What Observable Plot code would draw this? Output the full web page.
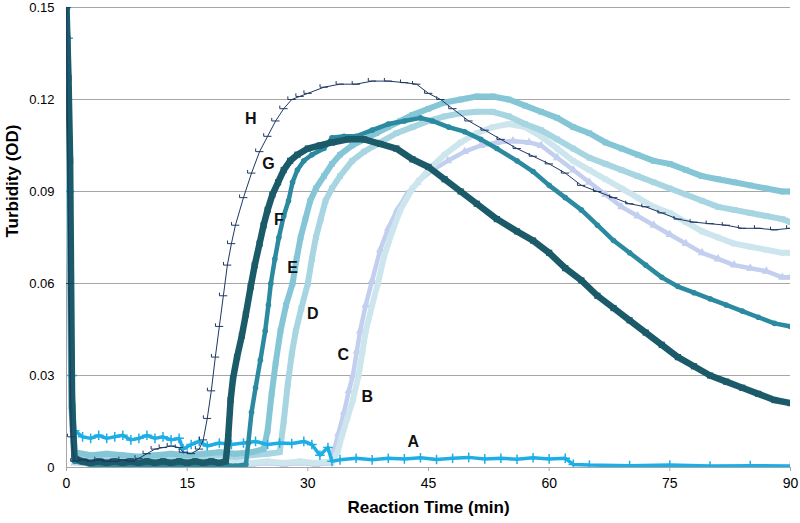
<!DOCTYPE html>
<html><head><meta charset="utf-8">
<script src="https://cdn.jsdelivr.net/npm/d3@7"></script>
<script src="https://cdn.jsdelivr.net/npm/@observablehq/plot@0.6"></script>
<style>
body{margin:0;background:#fff;font-family:"Liberation Sans",Arial,sans-serif;}
svg{display:block;}
</style></head><body><div id="chart"></div>
<script>
// ---- data: [time (min), turbidity (OD)] ----
const seriesA = [[0,0.150],[0.2,0.140],[0.4,0.090],[0.7,0.030],[1,0.012],[2,0.010],[3,0.0095],[4,0.0105],[5,0.0095],[6,0.010],[7,0.0105],[8,0.009],[9,0.0095],[10,0.0105],[11,0.0095],[12,0.010],[13,0.009],[14,0.0095],[14.5,0.006],[15.5,0.0075],[16.5,0.0085],[17.5,0.007],[19,0.008],[20.5,0.0075],[22,0.008],[23.5,0.0085],[25,0.0075],[26.5,0.008],[28,0.0078],[29.5,0.0085],[30.5,0.0075],[31.5,0.004],[32.5,0.0065],[33,0.002],[34,0.0025],[36,0.003],[38,0.0025],[40,0.003],[42,0.0028],[44,0.0032],[46,0.0026],[48,0.003],[50,0.0033],[52,0.0028],[54,0.003],[56,0.0027],[58,0.0032],[60,0.0028],[62,0.003],[63,0.001],[65,0.0008],[70,0.0006],[75,0.0008],[80,0.0005],[85,0.0006],[90,0.0005]];
const seriesB = [[0,0.150],[0.3,0.09],[0.6,0.02],[1,0.002],[3,0.0015],[5,0.002],[7,0.0015],[9,0.002],[11,0.0015],[13,0.002],[15,0.0015],[17,0.002],[19,0.0015],[21,0.002],[23,0.0015],[25,0.002],[27,0.0015],[29,0.002],[31,0.0015],[33,0.002],[33.7,0.005],[34.2,0.010],[34.9,0.016],[35.6,0.022],[36.3,0.030],[36.8,0.038],[37.2,0.0445],[38,0.053],[38.7,0.060],[39.5,0.069],[40.5,0.077],[41.5,0.084],[43,0.091],[45,0.097],[47,0.102],[49,0.106],[51,0.109],[53,0.111],[55,0.112],[57,0.111],[59,0.108],[61,0.104],[63,0.100],[65,0.097],[67,0.094],[69,0.091],[71,0.088],[73,0.085],[75,0.083],[77,0.080],[79,0.077],[81,0.075],[83,0.073],[85,0.072],[87,0.071],[89,0.070],[90,0.070]];
const seriesC = [[0,0.150],[0.3,0.09],[0.6,0.02],[1,0.0015],[3,0.001],[5,0.0015],[7,0.001],[9,0.0015],[11,0.001],[13,0.0015],[15,0.001],[17,0.0015],[19,0.001],[21,0.0015],[23,0.001],[25,0.0015],[27,0.001],[29,0.0015],[31,0.001],[32.8,0.0015],[33.3,0.006],[33.8,0.011],[34.5,0.018],[35.1,0.025],[35.6,0.030],[36.1,0.038],[36.5,0.0445],[37.2,0.053],[38,0.061],[39,0.071],[40,0.078],[41.1,0.084],[42.3,0.089],[43.6,0.093],[45.5,0.097],[47.4,0.100],[49.5,0.103],[51.5,0.105],[53.5,0.106],[55.5,0.1065],[57.5,0.106],[59,0.105],[61,0.101],[63,0.097],[65,0.093],[67,0.089],[69,0.085],[71,0.082],[73,0.079],[75,0.076],[77,0.073],[79,0.070],[81,0.068],[83,0.066],[85,0.065],[87,0.064],[89,0.062],[90,0.062]];
const seriesD = [[0,0.150],[0.3,0.10],[0.6,0.02],[1,0.004],[3,0.003],[5,0.0035],[7,0.003],[9,0.0035],[11,0.003],[13,0.0035],[15,0.003],[17,0.0035],[19,0.004],[21,0.0035],[23,0.004],[25,0.0045],[26.5,0.005],[27,0.015],[27.5,0.027],[28,0.037],[28.5,0.0445],[29.2,0.052],[30,0.060],[30.5,0.068],[31,0.075],[31.6,0.081],[32.2,0.087],[33,0.091],[34,0.095],[35.5,0.100],[37,0.103],[39,0.106],[41,0.109],[43,0.111],[45,0.113],[47,0.1145],[49,0.1155],[51,0.116],[53,0.116],[55,0.1145],[57,0.112],[59,0.110],[61,0.107],[63,0.104],[65,0.101],[67,0.099],[69,0.097],[71,0.095],[73,0.093],[75,0.091],[77,0.089],[79,0.087],[81,0.085],[83,0.084],[85,0.083],[87,0.082],[89,0.081],[90,0.080]];
const seriesE = [[0,0.150],[0.3,0.11],[0.6,0.03],[1,0.005],[3,0.004],[5,0.0045],[7,0.004],[9,0.0035],[11,0.004],[13,0.0045],[15,0.004],[17,0.0045],[19,0.005],[21,0.0045],[23,0.005],[24.5,0.006],[25,0.012],[25.5,0.024],[26,0.034],[26.6,0.0445],[27.3,0.053],[28.1,0.060],[28.6,0.068],[29.1,0.075],[29.7,0.081],[30.3,0.087],[31,0.091],[32,0.095],[33,0.099],[34,0.102],[35.5,0.105],[37,0.107],[38.5,0.109],[40,0.111],[41.5,0.113],[43,0.115],[45,0.117],[47,0.119],[49,0.120],[51,0.121],[53,0.121],[55,0.120],[57,0.118],[59,0.116],[61,0.114],[63,0.111],[65,0.109],[67,0.106],[69,0.104],[71,0.102],[73,0.100],[75,0.099],[77,0.097],[79,0.095],[81,0.094],[83,0.093],[85,0.092],[87,0.091],[89,0.090],[90,0.090]];
const seriesF = [[0,0.150],[0.2,0.140],[0.4,0.108],[0.7,0.030],[1,0.002],[3,0.001],[5,0.0005],[7,0.001],[9,0.0005],[11,0.001],[13,0.0005],[15,0.001],[17,0.0005],[19,0.001],[21,0.0005],[22.3,0.001],[22.6,0.008],[23,0.018],[23.5,0.026],[24.1,0.035],[24.7,0.0445],[25.1,0.053],[25.4,0.060],[25.9,0.068],[26.4,0.075],[27,0.082],[27.6,0.087],[28.1,0.093],[28.7,0.097],[29.5,0.100],[30.5,0.102],[32,0.104],[33,0.1075],[34.5,0.108],[36,0.108],[38,0.110],[40,0.112],[42,0.113],[44,0.114],[45.5,0.113],[47.5,0.111],[49.5,0.1095],[51.5,0.107],[53.5,0.104],[56,0.100],[58,0.0965],[60,0.092],[62,0.088],[64,0.084],[66,0.079],[68,0.074],[70,0.070],[72,0.066],[74,0.062],[76,0.059],[78,0.057],[80,0.055],[82,0.053],[84,0.051],[86,0.049],[88,0.047],[90,0.046]];
const seriesG = [[0,0.150],[0.25,0.127],[0.45,0.100],[0.7,0.020],[1,0.003],[2,0.002],[3,0.0015],[4,0.002],[5,0.0015],[6,0.002],[7,0.0015],[8,0.002],[9,0.0015],[10,0.002],[11,0.0015],[12,0.002],[13,0.0015],[14,0.002],[15,0.0015],[16,0.002],[17,0.0015],[18,0.002],[19,0.0015],[19.8,0.002],[20.1,0.010],[20.4,0.022],[20.7,0.029],[21.2,0.036],[21.8,0.043],[22.3,0.050],[22.9,0.059],[23.4,0.066],[24,0.073],[24.5,0.079],[25,0.084],[25.6,0.089],[26.3,0.093],[27,0.097],[27.8,0.100],[28.7,0.102],[30,0.104],[31.5,0.105],[33,0.106],[35,0.107],[37,0.107],[39,0.1055],[41,0.104],[43,0.1005],[45,0.098],[47,0.094],[49,0.090],[51,0.086],[53.5,0.081],[56,0.077],[58,0.074],[60,0.070],[62,0.065],[64,0.061],[66,0.056],[68,0.052],[70,0.048],[72,0.044],[74,0.040],[76,0.036],[78,0.033],[80,0.030],[82,0.028],[84,0.026],[86,0.024],[88,0.022],[90,0.021]];
const seriesH = [[0,0.150],[0.3,0.060],[0.6,0.010],[1,0.002],[2,0.0025],[3,0.002],[4,0.0025],[5,0.002],[6,0.002],[7,0.0025],[8,0.002],[9,0.003],[10,0.0045],[11,0.006],[12,0.0065],[13,0.007],[14,0.0065],[14.5,0.005],[15.5,0.0045],[16.5,0.006],[17,0.009],[17.5,0.016],[18,0.025],[18.5,0.036],[19,0.046],[19.5,0.056],[20,0.066],[20.5,0.073],[21,0.079],[22,0.088],[23,0.096],[24,0.103],[25,0.108],[26,0.113],[27,0.117],[28,0.120],[29,0.121],[30,0.122],[32,0.124],[34,0.125],[36,0.125],[38,0.126],[40,0.126],[42,0.1255],[43.5,0.125],[45,0.122],[46.5,0.120],[48,0.117],[50,0.113],[52,0.110],[54,0.107],[56,0.104],[58,0.1015],[60,0.099],[62,0.096],[64,0.092],[66,0.090],[68,0.088],[70,0.086],[72,0.085],[74,0.083],[76,0.081],[78,0.080],[80,0.0795],[82,0.079],[84,0.078],[86,0.078],[88,0.0775],[90,0.078]];

const labelNames = ["A","B","C","D","E","F","G","H"];
const labelT = [43.1,37.4,34.4,30.6,28.1,26.4,25.1,22.9];
const labelV = [0.0085,0.0231,0.0367,0.050,0.065,0.0809,0.0991,0.1137];

const xTicks = [0,15,30,45,60,75,90];
const yTicks = [0,0.03,0.06,0.09,0.12,0.15];
const xTitle = "Reaction Time (min)";
const yTitle = "Turbidity (OD)";

// ---- build ----
const rows = arr => arr.map(([t, v]) => ({t, v}));
const dash = {draw(ctx, size){ const w = Math.sqrt(size); ctx.moveTo(-w, 0); ctx.lineTo(w, 0); ctx.moveTo(-w,0); ctx.lineTo(-w,-w*0.8); }};

function series(arr, color, width, symbol, r, filled){
  const d = rows(arr);
  return [
    Plot.line(d, {x:"t", y:"v", stroke:color, strokeWidth:width, clip:true}),
    Plot.dot(d, filled
      ? {x:"t", y:"v", symbol, r, fill:color, stroke:"none", clip:true}
      : {x:"t", y:"v", symbol, r, stroke:color, strokeWidth:1.5, fill:"none", clip:true})
  ];
}

const labels = labelNames.map((n, i) => ({n, t: labelT[i], v: labelV[i]}));

const chart = Plot.plot({
  width: 800, height: 523,
  marginLeft: 66, marginRight: 10, marginTop: 7, marginBottom: 56,
  x: {domain: [0, 90]},
  y: {domain: [0, 0.15]},
  style: {fontFamily: "'Liberation Sans', Arial, sans-serif", fontSize: "14px", color: "#000", background: "#fff"},
  marks: [
    Plot.gridY(yTicks, {stroke: "#a6a6a6", strokeOpacity: 1, strokeWidth: 1}),
    Plot.ruleX([0], {stroke: "#a6a6a6"}),
    Plot.axisX({ticks: xTicks, tickSize: 4, tickPadding: 7, stroke: "#a6a6a6", fontSize: 14, label: null, tickFormat: d => String(d)}),
    Plot.axisY({ticks: yTicks, tickSize: 0, tickPadding: 12, fontSize: 13, label: null, tickFormat: d => d === 0 ? "0" : d.toFixed(2)}),
    ...series(seriesC, "#c3cfee", 4.5, "triangle", 3.2, true),
    ...series(seriesB, "#cde6ee", 6, "square", 3.2, true),
    ...series(seriesD, "#a7d5e1", 6, "square", 3.2, true),
    ...series(seriesE, "#85c6d6", 6, "square", 3.2, true),
    ...series(seriesA, "#1eaee6", 3.5, "plus", 3.2, false),
    ...series(seriesF, "#2b8aa0", 4.5, "circle", 2.8, true),
    ...series(seriesG, "#1b5a68", 6.5, "square", 3.5, true),
    Plot.line(rows(seriesH), {x:"t", y:"v", stroke:"#1f3864", strokeWidth:1, clip:true}),
    Plot.dot(rows(seriesH), {x:"t", y:"v", symbol: dash, r: 2.2, stroke:"#1f3864", strokeWidth:1, fill:"none", clip:true}),
    Plot.text(labels, {x:"t", y:"v", text:"n", fontWeight:"bold", fontSize:16, fill:"#111"}),
    Plot.text([xTitle], {text: d => d, frameAnchor: "bottom", dy: 45, fontWeight: "bold", fontSize: 17}),
    Plot.text([yTitle], {text: d => d, frameAnchor: "left", dx: -54, rotate: -90, fontWeight: "bold", fontSize: 17})
  ]
});
document.getElementById("chart").appendChild(chart);
</script>
</body></html>
